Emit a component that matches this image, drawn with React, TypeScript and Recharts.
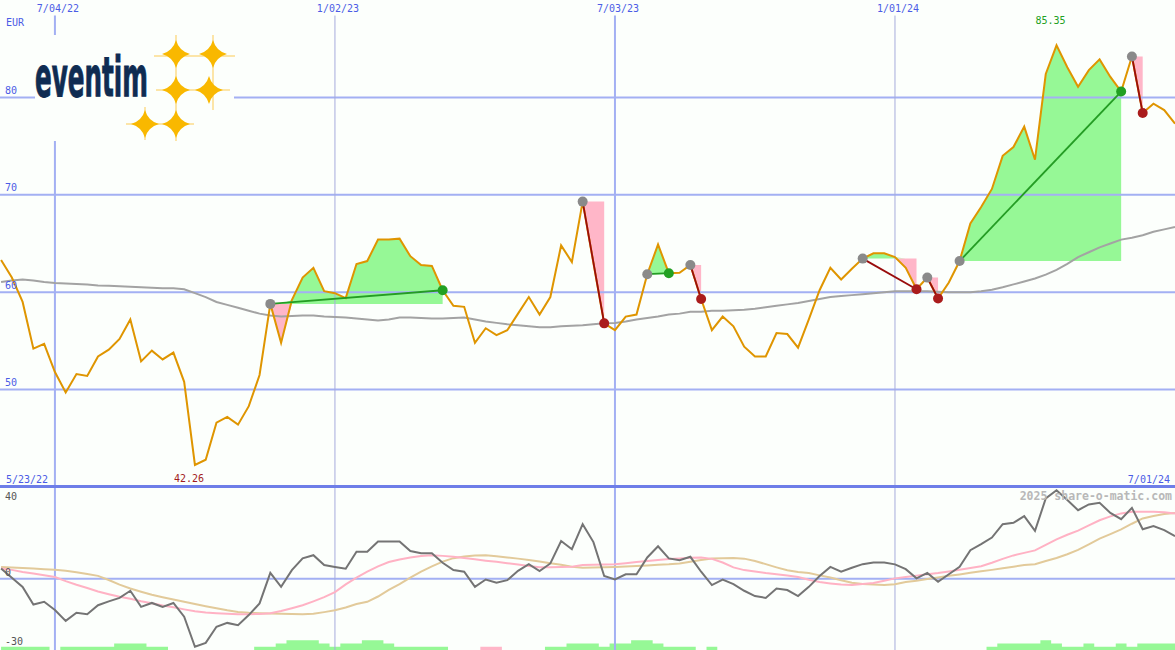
import React from 'react';
import {
  Area,
  ComposedChart,
  Line,
  ReferenceDot,
  ReferenceLine,
  XAxis,
  YAxis,
} from 'recharts';

// weekly closes, week 0 = 7/04/22
const FIRST_WEEK = -5;
const dateTicks = [0, 26, 52, 78];
const dateLabels = ['7/04/22', '1/02/23', '7/03/23', '1/01/24'];
const priceTicks = [50, 60, 70, 80];
const oscTicks = [-30, 0, 40];

const price = [
  63.3, 61.5, 59.0, 54.2, 54.7,
  51.8, 49.7, 51.6, 51.4, 53.4,
  54.1, 55.2, 57.2, 52.9, 54.0,
  53.1, 53.8, 50.8, 42.26, 42.8,
  46.6, 47.2, 46.4, 48.3, 51.5,
  58.8, 54.8, 59.2, 61.5, 62.5,
  60.1, 59.9, 59.4, 62.9, 63.2,
  65.4, 65.4, 65.5, 63.7, 62.8,
  62.7, 60.2, 58.6, 58.5, 54.8,
  56.3, 55.6, 56.1, 57.8, 59.5,
  57.7, 59.5, 64.8, 63.1, 69.3,
  63.0, 56.8, 56.1, 57.5, 57.7,
  61.85, 64.9, 61.95, 62.0, 62.8,
  59.3, 56.1, 57.5, 56.5, 54.4,
  53.4, 53.4, 55.8, 55.7, 54.3,
  57.2, 60.2, 62.5, 61.3, 62.4,
  63.45, 64.0, 64.0, 63.6, 62.5,
  60.3, 61.5, 59.35, 61.0, 63.2,
  67.05, 68.75, 70.6, 74.0, 74.9,
  77.0, 73.6, 82.4, 85.35, 83.1,
  81.1, 82.8, 83.9, 82.1, 80.6,
  84.2, 78.4, 79.35, 78.7, 77.3,
];

const ma40 = [
  61.05, 61.2, 61.3, 61.2, 61.05,
  60.95, 60.9, 60.85, 60.8, 60.7,
  60.65, 60.6, 60.55, 60.5, 60.45,
  60.4, 60.4, 60.3, 59.9, 59.5,
  59.0, 58.7, 58.4, 58.1, 57.8,
  57.6, 57.5, 57.55, 57.6, 57.6,
  57.5, 57.45, 57.4, 57.3, 57.2,
  57.1, 57.2, 57.4, 57.4, 57.35,
  57.3, 57.3, 57.35, 57.4, 57.2,
  57.0, 56.85, 56.7, 56.6, 56.5,
  56.4, 56.4, 56.5, 56.55, 56.6,
  56.7, 56.8, 56.85, 57.0, 57.2,
  57.35, 57.5, 57.7, 57.8, 58.0,
  58.0, 58.1, 58.1, 58.15, 58.2,
  58.3, 58.45, 58.6, 58.75, 58.9,
  59.1, 59.3, 59.5, 59.6, 59.7,
  59.8, 59.9, 60.0, 60.1, 60.1,
  60.1, 60.1, 60.05, 60.0, 60.0,
  60.0, 60.1, 60.25, 60.5, 60.8,
  61.1, 61.4, 61.8, 62.3, 62.9,
  63.6, 64.1, 64.6, 65.0, 65.4,
  65.6, 65.85, 66.2, 66.45, 66.7,
];

const momentum = [
  4.5, 0.5, -3.5, -11.2, -10.0,
  -13.6, -18.3, -14.8, -15.4, -11.5,
  -9.8, -8.3, -5.2, -12.2, -10.5,
  -12.2, -10.5, -16.5, -29.6, -27.9,
  -20.9, -19.2, -20.2, -15.8, -10.7,
  2.6, -3.5, 3.8, 8.9, 10.3,
  6.0, 5.2, 4.4, 11.8, 11.8,
  16.3, 16.3, 16.3, 12.1, 11.1,
  11.1, 7.0, 3.8, 3.1, -3.5,
  -0.3, -1.7, -0.6, 3.5, 6.4,
  3.4, 6.7, 16.5, 12.9, 23.8,
  16.0, 1.2, -0.3, 2.0, 2.0,
  9.3, 14.2, 8.9, 8.1, 9.6,
  3.1, -2.7, -0.3, -2.3, -5.2,
  -7.5, -8.3, -4.2, -4.9, -7.5,
  -3.5, 1.2, 5.2, 3.1, 4.8,
  6.4, 7.1, 7.1, 6.3, 4.2,
  0.2, 2.6, -1.3, 2.0, 5.2,
  12.5, 15.1, 18.0, 23.8, 24.4,
  27.3, 20.9, 35.0, 38.6, 34.3,
  29.9, 32.4, 33.1, 28.7, 26.0,
  30.9, 21.6, 23.0, 21.2, 18.6,
];

const fastSignal = [
  4.5, 3.9, 3.0, 2.3, 1.6,
  0.8, -1.0, -2.6, -4.0, -5.5,
  -6.7, -7.8, -8.7, -9.8, -10.6,
  -11.6, -12.4, -13.3, -14.1, -14.7,
  -15.0, -15.2, -15.4, -15.4, -15.3,
  -15.0, -14.0, -12.8, -11.5, -9.8,
  -8.0, -5.8, -2.4, 0.5, 3.1,
  5.4, 7.3, 8.4, 9.3, 9.9,
  10.3, 10.0, 9.6, 9.1, 8.5,
  7.9, 7.4, 6.8, 6.2, 5.6,
  5.0, 5.0, 5.2, 5.3, 6.0,
  6.1, 6.2, 6.4, 6.8, 7.3,
  7.8, 8.2, 8.6, 8.9, 9.2,
  9.3, 8.7, 7.1, 5.0, 3.8,
  3.2, 2.5, 2.0, 1.5, 0.8,
  -0.4, -1.4, -2.0, -2.5, -2.7,
  -2.3, -1.8, -0.8, 0.2, 0.8,
  1.4, 2.0, 2.5, 3.2, 4.0,
  4.7, 5.5, 7.0, 8.7, 10.2,
  11.3, 12.4, 14.8, 17.2, 19.2,
  21.0, 23.3, 25.5, 27.2, 28.5,
  29.2, 29.2, 29.2, 29.0, 28.5,
];

const slowSignal = [
  5.2, 4.9, 4.7, 4.5, 4.2,
  4.0, 3.5, 2.9, 2.1, 1.3,
  -0.5, -2.5, -4.2, -5.6, -6.9,
  -8.0, -9.0, -10.0, -11.0, -11.9,
  -12.8, -13.7, -14.4, -14.8, -15.0,
  -15.1, -15.2, -15.3, -15.4, -15.2,
  -14.5, -13.7, -12.5, -11.0, -10.0,
  -7.7, -4.8, -2.3, 0.5, 3.1,
  5.4, 7.5, 9.0, 9.7, 10.2,
  10.3, 9.8, 9.3, 8.8, 8.2,
  7.5, 6.8, 6.1, 5.3, 4.8,
  4.9, 5.0, 5.2, 5.4, 5.6,
  5.8, 6.1, 6.3, 6.7, 7.4,
  8.2, 8.9, 9.0, 9.1, 8.8,
  7.8, 6.4, 5.0, 3.7, 3.0,
  2.5, 1.5, 0.6, -0.6, -1.7,
  -2.2, -2.5, -2.7, -2.4, -1.4,
  -0.8, -0.1, 0.6, 1.3, 1.9,
  2.6, 3.3, 3.9, 4.6, 5.3,
  6.0, 6.4, 7.8, 9.1, 10.7,
  12.6, 15.0, 17.5, 19.5, 21.5,
  24.0, 26.3, 27.4, 28.2, 28.7,
];

// strength bars under the oscillator: >0 green, <0 pink
const histLevel = [
  1, 1, 1, 1, 1,
  0, 1, 1, 1, 1,
  1, 2, 2, 2, 1,
  1, 0, 0, 0, 0,
  0, 0, 0, 0, 1,
  1, 2, 3, 3, 3,
  2, 1, 2, 2, 3,
  3, 2, 1, 1, 1,
  1, 1, 0, 0, 0,
  -1, -1, 0, 0, 0,
  0, 1, 1, 2, 2,
  2, 1, 2, 2, 3,
  3, 2, 1, 1, 1,
  0, 1, 0, 0, 0,
  0, 0, 0, 0, 0,
  0, 0, 0, 0, 0,
  0, 0, 0, 0, 0,
  0, 0, 0, 0, 0,
  0, 0, 1, 2, 2,
  2, 2, 3, 2, 1,
  1, 2, 1, 1, 2,
  1, 2, 2, 2, 2,
];

// signal trades as entry / exit weeks
const trades = [
  { entry: 20, exit: 36 },
  { entry: 49, exit: 51 },
  { entry: 55, exit: 57 },
  { entry: 59, exit: 60 },
  { entry: 75, exit: 80 },
  { entry: 81, exit: 82 },
  { entry: 84, exit: 99 },
  { entry: 100, exit: 101 },
];

const W = 1175;
const TOP_H = 487;
const LOW_H = 163;
const X_DOMAIN = [-5.1, 104];
const OSC_MIN = -31;
const HIST_STEP = 1.4;

const BG = '#fcfffc';
const GRID = '#a3b0f3';
const BLUE_TEXT = '#4b5ce6';
const GAIN = '#96f896';
const LOSS = '#ffb6c8';
const MONO = '"DejaVu Sans Mono", "Liberation Mono", monospace';

const priceAt = (week: number) => price[week - FIRST_WEEK];

const rows = price.map((p, k) => {
  const week = k + FIRST_WEEK;
  const level = histLevel[k];
  const row: any = {
    week,
    price: p,
    ma: ma40[k],
    mom: momentum[k],
    fast: fastSignal[k],
    slow: slowSignal[k],
    histUp: [OSC_MIN, OSC_MIN + Math.max(level, 0) * HIST_STEP],
    histDown: [OSC_MIN, OSC_MIN + Math.max(-level, 0) * HIST_STEP],
  };
  trades.forEach((t, n) => {
    if (week < t.entry || week > t.exit) return;
    const base = priceAt(t.entry);
    row[`gain${n}`] = [base, Math.max(p, base)];
    row[`loss${n}`] = [Math.min(p, base), base];
    if (week === t.entry) {
      row[`link${n}`] = p;
      row.entryMark = p;
    }
    if (week === t.exit) {
      row[`link${n}`] = p;
      row[p > base ? 'winMark' : 'lossMark'] = p;
    }
  });
  return row;
});

const lowIdx = price.indexOf(Math.min(...price));
const highIdx = price.indexOf(Math.max(...price));

function DateTick({ x, payload }: any) {
  const k = dateTicks.indexOf(payload.value);
  return (
    <text x={x + 3} y={12} textAnchor="middle" fill={BLUE_TEXT} fontSize={10} fontFamily={MONO}>
      {dateLabels[k]}
    </text>
  );
}

function PriceTick({ y, payload }: any) {
  return (
    <text x={5} y={y - 3.5} fill={BLUE_TEXT} fontSize={10} fontFamily={MONO}>
      {payload.value}
    </text>
  );
}

function OscTick({ y, payload }: any) {
  const isTop = payload.value === oscTicks[oscTicks.length - 1];
  return (
    <text x={5} y={isTop ? y + 13 : y - 3} fill="#555" fontSize={10} fontFamily={MONO}>
      {payload.value}
    </text>
  );
}

const markDot = (fill: string) => (props: any) => {
  const { cx, cy, value, index } = props;
  if (value == null || cy == null || cx == null) return <g key={index} />;
  return <circle key={index} cx={cx} cy={cy} r={5} fill={fill} />;
};

function starPath(cx: number, cy: number, r: number) {
  const k = 3;
  return [
    `M${cx},${cy - r}`,
    `Q${cx + k},${cy - k} ${cx + r},${cy}`,
    `Q${cx + k},${cy + k} ${cx},${cy + r}`,
    `Q${cx - k},${cy + k} ${cx - r},${cy}`,
    `Q${cx - k},${cy - k} ${cx},${cy - r}Z`,
  ].join(' ');
}

function Logo() {
  const stars = [
    [176, 54],
    [213, 54],
    [176, 90],
    [209, 90],
    [145, 124],
    [176, 124],
  ];
  return (
    <g>
      <rect x={35} y={35} width={199} height={106} fill={BG} />
      <g stroke="#fcdc8c" strokeWidth={1.5}>
        <line x1={154} y1={56} x2={235} y2={56} />
        <line x1={156} y1={90} x2={230} y2={90} />
        <line x1={126} y1={124} x2={194} y2={124} />
        <line x1={176} y1={35} x2={176} y2={141} />
        <line x1={213} y1={35} x2={213} y2={110} />
        <line x1={145} y1={107} x2={145} y2={140} />
      </g>
      {stars.map(([cx, cy]) => (
        <path key={`${cx}-${cy}`} d={starPath(cx, cy, 14)} fill="#f9b800" />
      ))}
      <text
        x={35}
        y={96}
        fontSize={56}
        fontWeight={700}
        fill="#0f2c52"
        stroke="#0f2c52"
        strokeWidth={1}
        textLength={113}
        lengthAdjust="spacingAndGlyphs"
        fontFamily='"Liberation Sans Narrow", "DejaVu Sans Condensed", "DejaVu Sans", sans-serif'
      >
        eventim
      </text>
    </g>
  );
}

export default function App() {
  return (
    <div
      style={{
        position: 'absolute',
        left: 0,
        top: 0,
        width: W,
        height: 650,
        background: BG,
        overflow: 'hidden',
      }}
    >
      <div style={{ position: 'absolute', left: 0, top: 0 }}>
        <ComposedChart width={W} height={TOP_H} data={rows} margin={{ top: 0, right: 0, bottom: 0, left: 0 }}>
          <XAxis
            dataKey="week"
            type="number"
            domain={X_DOMAIN}
            ticks={dateTicks}
            orientation="top"
            mirror
            height={20}
            interval={0}
            axisLine={false}
            tickLine={false}
            tick={DateTick}
            allowDataOverflow
          />
          <YAxis
            type="number"
            domain={[40, 90]}
            ticks={priceTicks}
            mirror
            width={30}
            interval={0}
            axisLine={false}
            tickLine={false}
            tick={PriceTick}
            allowDataOverflow
          />
          {priceTicks.map((v) => (
            <ReferenceLine key={`h${v}`} y={v} stroke={GRID} strokeWidth={2} />
          ))}
          {dateTicks.map((w, k) => (
            <ReferenceLine
              key={`v${w}`}
              segment={[
                { x: w, y: 88.4 },
                { x: w, y: 40 },
              ]}
              stroke={k % 2 === 0 ? GRID : '#a6acdc'}
              strokeWidth={k % 2 === 0 ? 2 : 1}
            />
          ))}
          {trades.map((t, n) => (
            <Area
              key={`gain${n}`}
              dataKey={`gain${n}`}
              type="linear"
              stroke="none"
              fill={GAIN}
              fillOpacity={1}
              dot={false}
              activeDot={false}
              isAnimationActive={false}
            />
          ))}
          {trades.map((t, n) => (
            <Area
              key={`loss${n}`}
              dataKey={`loss${n}`}
              type="linear"
              stroke="none"
              fill={LOSS}
              fillOpacity={1}
              dot={false}
              activeDot={false}
              isAnimationActive={false}
            />
          ))}
          <Line dataKey="ma" type="linear" stroke="#a3a3a3" strokeWidth={2} dot={false} activeDot={false} isAnimationActive={false} />
          <Line dataKey="price" type="linear" stroke="#df9500" strokeWidth={2} dot={false} activeDot={false} isAnimationActive={false} />
          {trades.map((t, n) => (
            <Line
              key={`link${n}`}
              dataKey={`link${n}`}
              type="linear"
              connectNulls
              stroke={priceAt(t.exit) > priceAt(t.entry) ? '#249c24' : '#990c0c'}
              strokeWidth={1.8}
              dot={false}
              activeDot={false}
              isAnimationActive={false}
            />
          ))}
          <Line dataKey="entryMark" stroke="none" dot={markDot('#8a8a8a')} activeDot={false} isAnimationActive={false} />
          <Line dataKey="winMark" stroke="none" dot={markDot('#22a022')} activeDot={false} isAnimationActive={false} />
          <Line dataKey="lossMark" stroke="none" dot={markDot('#aa1c1c')} activeDot={false} isAnimationActive={false} />
          <ReferenceDot
            x={lowIdx + FIRST_WEEK}
            y={price[lowIdx]}
            r={0}
            fill="none"
            stroke="none"
            label={{ value: price[lowIdx].toFixed(2), position: 'bottom', offset: 10, fill: '#a31c1c', fontSize: 10, fontFamily: MONO, dx: -6 }}
          />
          <ReferenceDot
            x={highIdx + FIRST_WEEK}
            y={price[highIdx]}
            r={0}
            fill="none"
            stroke="none"
            label={{ value: price[highIdx].toFixed(2), position: 'top', offset: 21, fill: '#22a022', fontSize: 10, fontFamily: MONO, dx: -6 }}
          />
        </ComposedChart>
      </div>

      <div style={{ position: 'absolute', left: 0, top: TOP_H }}>
        <ComposedChart width={W} height={LOW_H} data={rows} margin={{ top: 0, right: 0, bottom: 0, left: 0 }}>
          <XAxis dataKey="week" type="number" domain={X_DOMAIN} ticks={dateTicks} hide allowDataOverflow />
          <YAxis
            type="number"
            domain={[OSC_MIN, 40]}
            ticks={oscTicks}
            mirror
            width={30}
            interval={0}
            axisLine={false}
            tickLine={false}
            tick={OscTick}
            allowDataOverflow
          />
          <ReferenceLine y={0} stroke={GRID} strokeWidth={2} />
          {dateTicks.map((w, k) => (
            <ReferenceLine
              key={`lv${w}`}
              x={w}
              stroke={k % 2 === 0 ? GRID : '#a6acdc'}
              strokeWidth={k % 2 === 0 ? 2 : 1}
            />
          ))}
          <Area
            dataKey="histUp"
            type="step"
            stroke="none"
            fill={GAIN}
            fillOpacity={1}
            dot={false}
            activeDot={false}
            isAnimationActive={false}
          />
          <Area
            dataKey="histDown"
            type="step"
            stroke="none"
            fill={LOSS}
            fillOpacity={1}
            dot={false}
            activeDot={false}
            isAnimationActive={false}
          />
          <Line dataKey="slow" type="linear" stroke="#e2ca9a" strokeWidth={2} dot={false} activeDot={false} isAnimationActive={false} />
          <Line dataKey="fast" type="linear" stroke="#ffb2c4" strokeWidth={2} dot={false} activeDot={false} isAnimationActive={false} />
          <Line dataKey="mom" type="linear" stroke="#747474" strokeWidth={2} dot={false} activeDot={false} isAnimationActive={false} />
        </ComposedChart>
      </div>

      <div style={{ position: 'absolute', left: 0, top: 485, width: W, height: 3, background: '#6e7ee8' }} />

      <svg style={{ position: 'absolute', left: 0, top: 0, pointerEvents: 'none' }} width={W} height={650}>
        <Logo />
        <text x={6} y={25.5} fill={BLUE_TEXT} fontSize={10} fontFamily={MONO}>
          EUR
        </text>
        <text x={6} y={482.5} fill={BLUE_TEXT} fontSize={10} fontFamily={MONO}>
          5/23/22
        </text>
        <text x={1170} y={482.5} textAnchor="end" fill={BLUE_TEXT} fontSize={10} fontFamily={MONO}>
          7/01/24
        </text>
        <text x={1172} y={500} textAnchor="end" fill="#b8b8b8" fontSize={11.5} fontWeight={700} fontFamily={MONO}>
          2025 share-o-matic.com
        </text>
      </svg>
    </div>
  );
}
